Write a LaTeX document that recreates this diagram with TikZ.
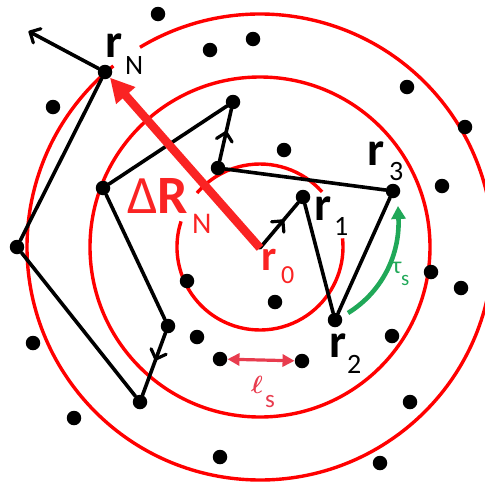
\documentclass[tikz,border=0pt]{standalone}
\usepackage{fontspec}
\usepackage{amsmath}
\setmainfont{Carlito}
\usetikzlibrary{arrows.meta,decorations.markings}
\definecolor{ringred}{RGB}{255,0,0}
\definecolor{dred}{RGB}{250,35,35}
\definecolor{lred}{RGB}{232,60,78}
\definecolor{tgreen}{RGB}{32,168,88}
\newcommand{\barbmark}{\draw[line width=3.2pt,line cap=round,line join=round] (-8pt,8pt) .. controls (-4pt,3pt) .. (0pt,0pt) .. controls (-4pt,-3pt) .. (-8pt,-8pt);}
\begin{document}
\begin{tikzpicture}[x=1pt,y=-1pt,
  dot/.style={circle,fill=black,inner sep=0pt,minimum size=14.5pt},
  ring/.style={draw=ringred,line width=3.4pt},
  walk/.style={line width=3.6pt,black,line cap=round,line join=round},
  midarr/.style={postaction={decorate,decoration={markings,mark=at position #1 with {\barbmark}}}},
  lbl/.style={inner sep=0pt,anchor=base west,font=\fontsize{48}{48}\selectfont\bfseries},
  sub/.style={inner sep=0pt,anchor=base west,font=\fontsize{28}{28}\selectfont}]
\useasboundingbox (0,0) rectangle (485,485);
\coordinate (c) at (260,247);
% rings
\draw[ring] (c) circle[radius=170pt];
\draw[ring] ([shift={(129:233pt)}]c) arc[start angle=129,end angle=481,radius=233pt];
\draw[ring] ([shift={(41.6:83pt)}]c) arc[start angle=41.6,end angle=139.4,radius=83pt];
\draw[ring] ([shift={(162:83pt)}]c) arc[start angle=162,end angle=366,radius=83pt];
% dots
\coordinate (r0) at (260,248);
\coordinate (tipN) at (30,32);
\node[dot] (rN) at (105,72) {};
\node[dot] (d2) at (53,107) {};
\node[dot] (d3) at (158,14) {};
\node[dot] (d4) at (210,50) {};
\node[dot] (d5) at (253,39) {};
\node[dot] (d6) at (233,102) {};
\node[dot] (d7) at (218,168) {};
\node[dot] (d8) at (103,188) {};
\node[dot] (d9) at (17,247) {};
\node[dot] (d10) at (284,150) {};
\node[dot] (d11) at (407,87) {};
\node[dot] (d12) at (465,127) {};
\node[dot] (d13) at (442,186) {};
\node[dot] (r3) at (393,191) {};
\node[dot] (r1) at (303,197) {};
\node[dot] (r2) at (335,320) {};
\node[dot] (d17) at (187,281) {};
\node[dot] (d18) at (168,326) {};
\node[dot] (d19) at (197,337) {};
\node[dot] (d20) at (220,359) {};
\node[dot] (d21) at (302,361) {};
\node[dot] (d22) at (275,302) {};
\node[dot] (d23) at (431,272) {};
\node[dot] (d24) at (461,288) {};
\node[dot] (d25) at (392,336) {};
\node[dot] (d26) at (33,343) {};
\node[dot] (d27) at (140,402) {};
\node[dot] (d28) at (74,418) {};
\node[dot] (d29) at (220,457) {};
\node[dot] (d30) at (410,402) {};
\node[dot] (d31) at (380,463) {};
% walk
\draw[walk,midarr=0.6] (r0) -- (r1);
\draw[walk] (r1) -- (r2) -- (r3) -- (d7);
\draw[walk,midarr=0.55] (d7) -- (d6);
\draw[walk] (d6) -- (d8) -- (d18);
\draw[walk,midarr=0.42] (d18) -- (d27);
\draw[walk] (d27) -- (d9) -- (rN);
\draw[walk,midarr=1] (rN) -- (tipN);
% Delta R arrow
\draw[line width=8.5pt,dred,-{Triangle[length=24pt,width=24pt]}] (r0) -- (rN);
% tau arrow
\coordinate (t0) at (348,313);
\coordinate (t1) at (398,206);
\draw[tgreen,line width=4.6pt,-{Triangle[length=13pt,width=14pt]}] (t0) .. controls (382,292) and (400,255) .. (t1);
% ell arrow
\draw[lred,line width=3.2pt,{Triangle[length=12pt,width=12pt]}-{Triangle[length=12pt,width=12pt]}] (d20) -- (d21);
% labels
\node[lbl] (lN) at (105,57) {r}; \node[sub] (lNs) at (125,74) {N};
\node[lbl] (l3) at (367,165) {r}; \node[sub] (l3s) at (389,180) {3};
\node[lbl] (l1) at (314,220) {r}; \node[sub] (l1s) at (334,235) {1};
\node[lbl] (l2) at (329,357) {r}; \node[sub] (l2s) at (347,373) {2};
\node[lbl,dred,font=\fontsize{43}{43}\selectfont\bfseries] (l0) at (261,270) {r};
\node[sub,dred,font=\fontsize{26}{26}\selectfont] (l0s) at (281,283) {0};
\node[inner sep=0pt,anchor=base west,dred,font=\fontsize{54}{54}\selectfont] (dR) at (127,213) {Δ\textbf{R}};
\node[sub,dred,font=\fontsize{30}{30}\selectfont] (dRs) at (192,233) {N};
\node[inner sep=0pt,anchor=base west,tgreen,font=\fontsize{24}{24}\selectfont] (tau) at (392,273) {τ};
\node[sub,tgreen,font=\fontsize{21}{21}\selectfont] (taus) at (401,285) {s};
\node[inner sep=0pt,anchor=base west,lred,font=\fontsize{30}{30}\selectfont] (ell) at (251,393) {$\boldsymbol{\ell}$};
\node[sub,lred,font=\fontsize{25}{25}\selectfont] (ells) at (265,407) {s};
\end{tikzpicture}
\end{document}
